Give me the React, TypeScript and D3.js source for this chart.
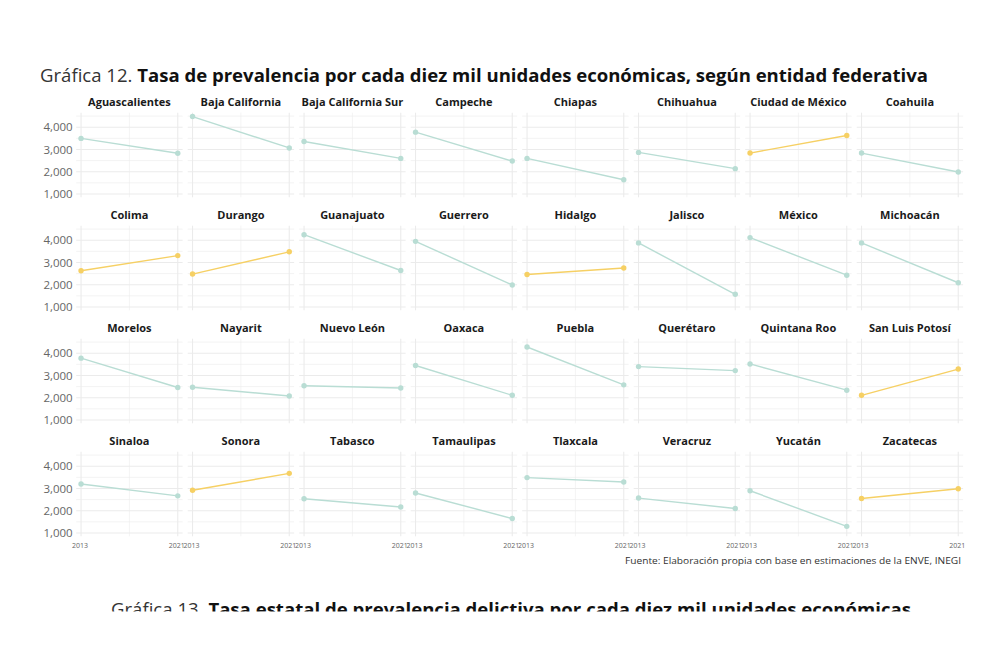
import React from "react";
import { scaleLinear, line, format } from "d3";

// tasa por cada diez mil unidades económicas, 2013 y 2021
const years = [2013, 2021];
const states = [
  "Aguascalientes", "Baja California", "Baja California Sur", "Campeche", "Chiapas", "Chihuahua", "Ciudad de México", "Coahuila",
  "Colima", "Durango", "Guanajuato", "Guerrero", "Hidalgo", "Jalisco", "México", "Michoacán",
  "Morelos", "Nayarit", "Nuevo León", "Oaxaca", "Puebla", "Querétaro", "Quintana Roo", "San Luis Potosí",
  "Sinaloa", "Sonora", "Tabasco", "Tamaulipas", "Tlaxcala", "Veracruz", "Yucatán", "Zacatecas"
];
const values2013 = [
  3500, 4480, 3360, 3780, 2600, 2870, 2840, 2840,
  2630, 2480, 4250, 3950, 2460, 3880, 4120, 3880,
  3780, 2470, 2540, 3450, 4280, 3400, 3520, 2110,
  3200, 2920, 2540, 2800, 3490, 2570, 2900, 2550
];
const values2021 = [
  2830, 3070, 2600, 2480, 1640, 2140, 3630, 1990,
  3310, 3480, 2640, 1990, 2750, 1570, 2430, 2090,
  2460, 2080, 2440, 2110, 2580, 3220, 2340, 3290,
  2670, 3680, 2170, 1650, 3290, 2100, 1300, 2990
];
const yTicks = [1000, 2000, 3000, 4000];
const yMinor = [1500, 2500, 3500, 4500];
const xMinor = [2017];

const FONT = "'Open Sans', 'Noto Sans', sans-serif";
const TEAL = "#b9ddd4";
const YELLOW = "#f6d064";
const GRID = "#ebebeb";

const COLS = 8;
const colStep = 111.5;
const rowStep = 113;
const panelLeft = 76.2;
const panelTop = 112.7;
const panelW = 106.4;
const panelH = 84.6;

const fmt = format(",");

const Panel = ({ i }: { i: number }) => {
  const col = i % COLS;
  const row = Math.floor(i / COLS);
  const x0 = panelLeft + col * colStep;
  const y0 = panelTop + row * rowStep;
  const pad = panelW * 0.0455;
  const x = scaleLinear().domain([2013, 2021]).range([x0 + pad, x0 + panelW - pad]);
  const y = scaleLinear().domain([852, 4654]).range([y0 + panelH, y0]);
  const pts: [number, number][] = [
    [years[0], values2013[i]],
    [years[1], values2021[i]]
  ];
  const color = values2021[i] > values2013[i] ? YELLOW : TEAL;
  const path = line<[number, number]>()
    .x((d) => x(d[0]))
    .y((d) => y(d[1]))(pts);
  return (
    <g>
      {yMinor.map((t) => (
        <line key={"ym" + t} x1={x0} x2={x0 + panelW} y1={y(t)} y2={y(t)} stroke={GRID} strokeWidth={0.6} />
      ))}
      {xMinor.map((t) => (
        <line key={"xm" + t} x1={x(t)} x2={x(t)} y1={y0} y2={y0 + panelH} stroke={GRID} strokeWidth={0.6} />
      ))}
      {yTicks.map((t) => (
        <line key={"y" + t} x1={x0} x2={x0 + panelW} y1={y(t)} y2={y(t)} stroke={GRID} strokeWidth={1.1} />
      ))}
      {years.map((t) => (
        <line key={"x" + t} x1={x(t)} x2={x(t)} y1={y0} y2={y0 + panelH} stroke={GRID} strokeWidth={1.1} />
      ))}
      <text x={x0 + panelW / 2} y={y0 - 7} textAnchor="middle" fontFamily={FONT} fontWeight={700} fontSize={11} fill="#1a1a1a">
        {states[i]}
      </text>
      <path d={path || ""} fill="none" stroke={color} strokeWidth={1.4} />
      {pts.map((d, k) => (
        <circle key={k} cx={x(d[0])} cy={y(d[1])} r={2.7} fill={color} />
      ))}
      {col === 0 &&
        yTicks.map((t) => (
          <text key={"yl" + t} x={x0 - 3.5} y={y(t) + 4} textAnchor="end" fontFamily={FONT} fontSize={11.5} fill="#666">
            {fmt(t)}
          </text>
        ))}
      {row === 3 &&
        years.map((t) => (
          <text key={"xl" + t} x={x(t) - 1} y={y0 + panelH + 11.5} textAnchor="middle" fontFamily={FONT} fontSize={7} fill="#666">
            {t}
          </text>
        ))}
    </g>
  );
};

export default function App() {
  return (
    <>
      <style>{"body{margin:0}"}</style>
      <svg width={1000} height={665} style={{ display: "block", background: "#fff" }}>
        <text x={40} y={82} fontFamily={FONT} fontSize={18.5} fill="#1a1a1a" textLength={888} lengthAdjust="spacingAndGlyphs">
          <tspan fill="#333">Gráfica 12. </tspan>
          <tspan fontWeight={700} fill="#111">Tasa de prevalencia por cada diez mil unidades económicas, según entidad federativa</tspan>
        </text>
        {states.map((_, i) => (
          <Panel key={i} i={i} />
        ))}
        <text x={625} y={564} fontFamily={FONT} fontSize={9.5} fill="#333" textLength={336} lengthAdjust="spacingAndGlyphs">
          Fuente: Elaboración propia con base en estimaciones de la ENVE, INEGI
        </text>
        <text x={111} y={616} fontFamily={FONT} fontSize={18.5} fill="#1a1a1a" textLength={800} lengthAdjust="spacingAndGlyphs">
          <tspan fill="#333">Gráfica 13. </tspan>
          <tspan fontWeight={700} fill="#111">Tasa estatal de prevalencia delictiva por cada diez mil unidades económicas</tspan>
        </text>
        <rect x={0} y={611.5} width={1000} height={60} fill="#fff" />
      </svg>
    </>
  );
}
